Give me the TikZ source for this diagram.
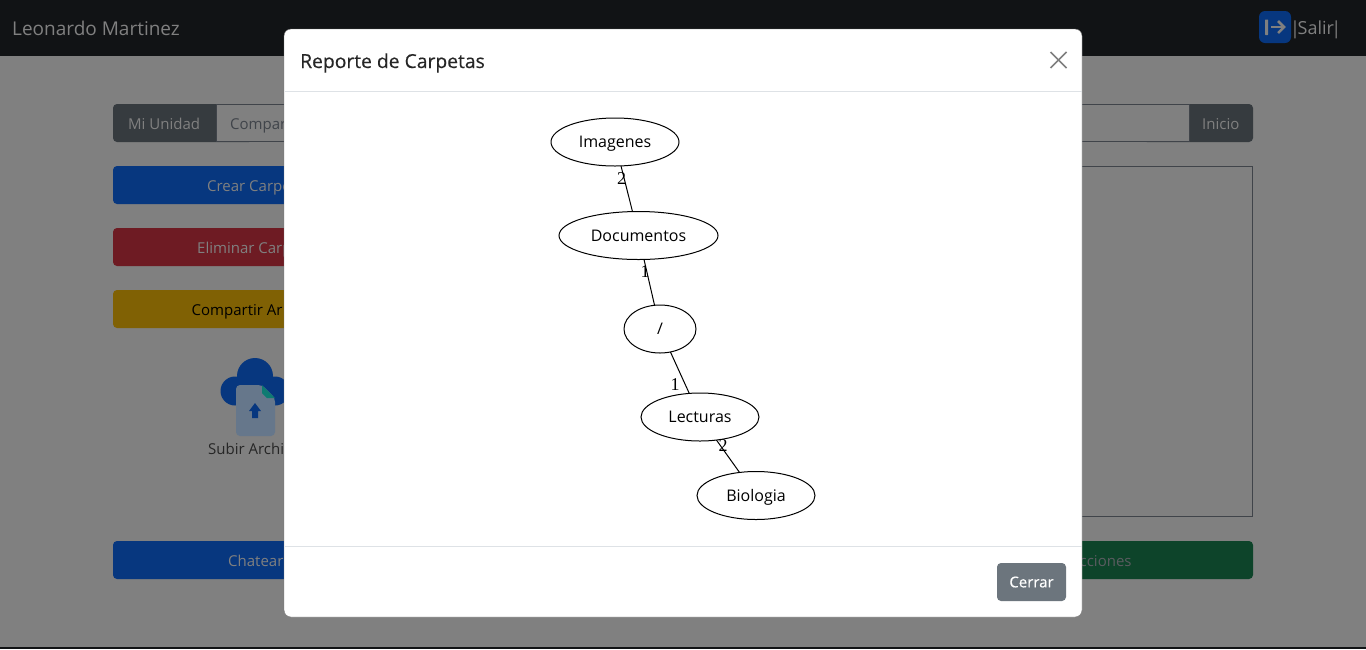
\documentclass[tikz,border=0pt]{standalone}
\usepackage{fontspec}
\setmainfont{Open Sans}
\newfontfamily\graphfont{Liberation Serif}
\usetikzlibrary{shapes.geometric}

\definecolor{backdrop}{HTML}{808080}
\definecolor{topbar}{HTML}{111315}
\definecolor{uitext}{HTML}{808080}
\definecolor{darkgray}{HTML}{363B3F}
\definecolor{darkblue}{HTML}{07377F}
\definecolor{darkred}{HTML}{6E1B23}
\definecolor{darkyellow}{HTML}{806104}
\definecolor{darkgreen}{HTML}{0D442A}
\definecolor{boxline}{HTML}{40444A}
\definecolor{modalline}{HTML}{DEE2E6}
\definecolor{closegray}{HTML}{7F7F7F}
\definecolor{cerrargray}{HTML}{6C757D}
\definecolor{docgray}{HTML}{66778B}
\definecolor{docfold}{HTML}{0E7B72}

\tikzset{
  barbutton/.style={rectangle, rounded corners=4pt, minimum height=38pt, inner sep=0pt},
  uilabel/.style={anchor=base west, inner sep=0pt, text=uitext, font=\fontsize{15}{18}\selectfont},
  folder/.style={ellipse, draw=black, line width=1pt, minimum height=48pt, inner sep=0pt, outer sep=0pt,
    text=black, text height=14pt, text depth=3pt, font=\fontsize{16}{19}\selectfont},
  edgelabel/.style={inner sep=0pt, text=black, font=\graphfont\fontsize{18}{20}\selectfont},
  link/.style={draw=black, line width=1pt}
}

\begin{document}
\begin{tikzpicture}[x=1pt, y=-1pt]
\useasboundingbox (0,0) rectangle (1366,649);

% page behind the modal
\fill[backdrop] (0,0) rectangle (1366,649);
\fill[topbar] (0,0) rectangle (1366,56);
\fill[topbar] (0,647) rectangle (1366,649);
\node[uilabel, font=\fontsize{19}{23}\selectfont] (usuario) at (12,35) {Leonardo Martinez};

\node[rectangle, rounded corners=6pt, fill=darkblue, minimum width=32pt, minimum height=32pt, inner sep=0pt] (saliricon) at (1275,27) {};
\fill[uitext, rounded corners=0.5pt] (1265,19.5) rectangle (1268,35);
\draw[uitext, line width=2.5pt] (1271,27) -- (1283,27);
\draw[uitext, line width=2.5pt] (1278,21) -- (1284,27) -- (1278,33);
\node[uilabel, font=\fontsize{18}{22}\selectfont] (salir) at (1290,34) {|\kern-2.5pt Salir\kern-2.5pt|};

% navigation row
\node[barbutton, fill=darkgray, minimum width=140pt] (miunidad) at (183,123) {};
\node[barbutton, fill=darkgray, minimum width=110pt] (inicio) at (1198,123) {};
\fill[backdrop, draw=boxline, line width=0.9pt] (216,104.5) rectangle (1189,141.5);
\node[uilabel] (miunidadtxt) at (128,129) {Mi Unidad};
\node[uilabel, text=boxline] (compartxt) at (230,129) {Compar};
\node[uilabel] (iniciotxt) at (1202,129) {Inicio};

% buttons on the left
\node[barbutton, fill=darkblue, minimum width=386pt] (crear) at (306,185) {};
\node[barbutton, fill=darkred, minimum width=386pt] (eliminar) at (306,247) {};
\node[barbutton, fill=darkyellow, minimum width=386pt] (compartir) at (306,309) {};
\node[barbutton, fill=darkblue, minimum width=386pt] (chatear) at (306,560) {};
\node[barbutton, fill=darkgreen, minimum width=400pt] (acciones) at (1053,560) {};
\node[uilabel] (creartxt) at (207,191) {Crear Carpe};
\node[uilabel] (eliminartxt) at (197,253) {Eliminar Carp};
\node[uilabel, text=black] (compartirtxt) at (191.5,315) {Compartir Ar};
\node[uilabel] (chateartxt) at (228,566) {Chatear};
\node[uilabel, text=boxline!60!uitext] (accionestxt) at (1079.5,566) {cciones};

% box on the right
\draw[boxline, line width=0.9pt] (700,166.5) rectangle (1252.5,516.5);

% upload icon
\fill[darkblue] (255,376) circle (18);
\fill[darkblue] (235,391) circle (14.5);
\fill[darkblue] (275,391) circle (14.5);
\fill[darkblue] (235,385) rectangle (275,405);
\fill[docgray, rounded corners=4pt] (236,385) -- (262,385) -- (275,398) -- (275,436) -- (236,436) -- cycle;
\fill[docfold] (262,385) -- (275,398) -- (267,398) -- (262,393) -- cycle;
\fill[darkblue] (255,403) -- (261,411) -- (258,411) -- (258,418) -- (252,418) -- (252,411) -- (249,411) -- cycle;
\node[uilabel, text=black!85] (subirtxt) at (208,454) {Subir Archi};

% modal
\node[rectangle, rounded corners=7pt, fill=white, draw=black!55, line width=0.4pt, minimum width=798pt, minimum height=588pt, inner sep=0pt] (modal) at (683,323) {};
\draw[modalline, line width=0.9pt] (284.5,91.5) -- (1081.5,91.5);
\draw[modalline, line width=0.9pt] (284.5,546.5) -- (1081.5,546.5);
\node[uilabel, text=black!85, font=\fontsize{19.3}{23}\selectfont\addfontfeature{FakeBold=0.3}] (titulo) at (300,68) {Reporte de Carpetas};
\draw[closegray, line width=1.6pt] (1050.5,52) -- (1066.5,68);
\draw[closegray, line width=1.6pt] (1066.5,52) -- (1050.5,68);
\node[barbutton, fill=cerrargray, minimum width=69pt, text=white, font=\fontsize{15}{18}\selectfont\addfontfeature{FakeBold=0.3}] (cerrar) at (1031.5,582) {Cerrar};

% folder tree
\node[folder, minimum width=128pt] (imagenes) at (615,142) {Imagenes};
\node[folder, minimum width=159pt] (documentos) at (638.5,235.5) {Documentos};
\node[folder, minimum width=72pt] (raiz) at (660,329) {/};
\node[folder, minimum width=118pt] (lecturas) at (700,417) {Lecturas};
\node[folder, minimum width=118pt] (biologia) at (756,495.5) {Biologia};

\draw[link] (imagenes) -- (documentos);
\draw[link] (documentos) -- (raiz);
\draw[link] (raiz) -- (lecturas);
\draw[link] (lecturas) -- (biologia);

\node[edgelabel] (peso1) at (621.5,178.5) {2};
\node[edgelabel] (peso2) at (645,271.5) {1};
\node[edgelabel] (peso3) at (675,385) {1};
\node[edgelabel] (peso4) at (723,446) {2};

\end{tikzpicture}
\end{document}
